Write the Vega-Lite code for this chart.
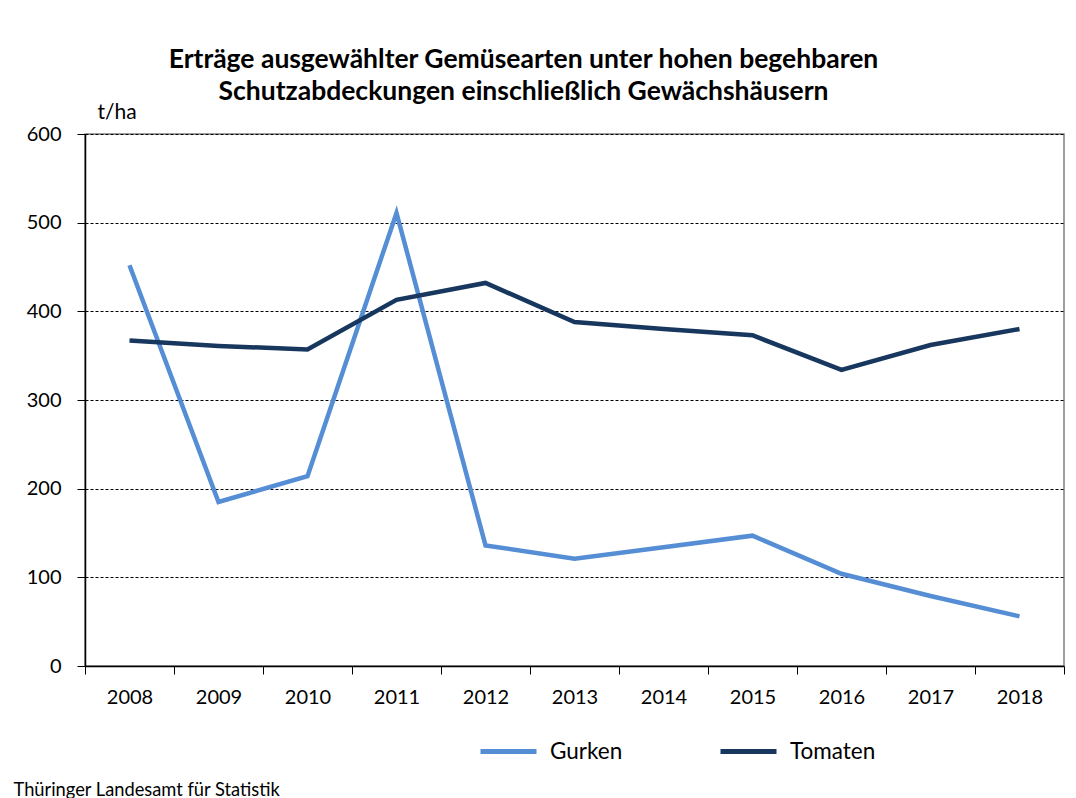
{
  "$schema": "https://vega.github.io/schema/vega-lite/v6.json",
  "width": 979,
  "height": 532,
  "autosize": "none",
  "padding": {"left": 85, "top": 134, "right": 12, "bottom": 132},
  "background": "white",
  "title": {
    "text": ["Erträge ausgewählter Gemüsearten unter hohen begehbaren", "Schutzabdeckungen einschließlich Gewächshäusern"],
    "font": "Lato",
    "fontSize": 26.5,
    "fontWeight": "bold",
    "color": "black",
    "anchor": "middle",
    "frame": "group",
    "dx": -51,
    "offset": -4,
    "lineHeight": 32
  },
  "data": {
    "values": [
      {"Jahr": "2008", "Art": "Gurken", "Wert": 452},
      {"Jahr": "2009", "Art": "Gurken", "Wert": 185},
      {"Jahr": "2010", "Art": "Gurken", "Wert": 214},
      {"Jahr": "2011", "Art": "Gurken", "Wert": 511},
      {"Jahr": "2012", "Art": "Gurken", "Wert": 136},
      {"Jahr": "2013", "Art": "Gurken", "Wert": 121},
      {"Jahr": "2014", "Art": "Gurken", "Wert": 134},
      {"Jahr": "2015", "Art": "Gurken", "Wert": 147},
      {"Jahr": "2016", "Art": "Gurken", "Wert": 104},
      {"Jahr": "2017", "Art": "Gurken", "Wert": 79},
      {"Jahr": "2018", "Art": "Gurken", "Wert": 56},
      {"Jahr": "2008", "Art": "Tomaten", "Wert": 367},
      {"Jahr": "2009", "Art": "Tomaten", "Wert": 361},
      {"Jahr": "2010", "Art": "Tomaten", "Wert": 357},
      {"Jahr": "2011", "Art": "Tomaten", "Wert": 413},
      {"Jahr": "2012", "Art": "Tomaten", "Wert": 432},
      {"Jahr": "2013", "Art": "Tomaten", "Wert": 388},
      {"Jahr": "2014", "Art": "Tomaten", "Wert": 380},
      {"Jahr": "2015", "Art": "Tomaten", "Wert": 373},
      {"Jahr": "2016", "Art": "Tomaten", "Wert": 334},
      {"Jahr": "2017", "Art": "Tomaten", "Wert": 362},
      {"Jahr": "2018", "Art": "Tomaten", "Wert": 380}
    ]
  },
  "mark": {"type": "line", "strokeWidth": 4.5, "strokeCap": "butt", "strokeJoin": "miter"},
  "encoding": {
    "x": {
      "field": "Jahr",
      "type": "ordinal",
      "bandPosition": 0.5,
      "scale": {"type": "band", "paddingInner": 0, "paddingOuter": 0},
      "axis": {
        "title": "Thüringer Landesamt für Statistik",
        "titleFont": "Lato",
        "titleFontSize": 18.3,
        "titleFontWeight": "normal",
        "titleColor": "black",
        "titleAnchor": "start",
        "titleAlign": "left",
        "titleBaseline": "alphabetic",
        "titleX": -72,
        "titleY": 129,
        "labelAngle": 0,
        "labelFont": "Lato",
        "labelFontSize": 20,
        "labelColor": "black",
        "labelPadding": 13,
        "tickBand": "extent",
        "tickSize": 8,
        "tickColor": "black",
        "domainColor": "black",
        "domainWidth": 1.5,
        "grid": false
      }
    },
    "y": {
      "field": "Wert",
      "type": "quantitative",
      "scale": {"domain": [0, 600]},
      "axis": {
        "values": [0, 100, 200, 300, 400, 500, 600],
        "title": "t/ha",
        "titleFont": "Lato",
        "titleFontSize": 21,
        "titleFontWeight": "normal",
        "titleColor": "black",
        "titleAngle": 0,
        "titleAlign": "left",
        "titleBaseline": "alphabetic",
        "titleX": 12,
        "titleY": -16,
        "labelFont": "Lato",
        "labelFontSize": 20,
        "labelColor": "black",
        "labelPadding": 16,
        "tickSize": 8,
        "tickColor": "black",
        "domainColor": "black",
        "domainWidth": 1.5,
        "grid": true,
        "gridColor": "black",
        "gridDash": [3, 2],
        "gridWidth": 1
      }
    },
    "color": {
      "field": "Art",
      "type": "nominal",
      "scale": {"domain": ["Gurken", "Tomaten"], "range": ["#558ED5", "#17375E"]},
      "legend": {
        "title": null,
        "orient": "none",
        "direction": "horizontal",
        "legendX": 393,
        "legendY": 587,
        "symbolType": "stroke",
        "symbolSize": 3136,
        "symbolStrokeWidth": 5,
        "labelFont": "Lato",
        "labelFontSize": 22.5,
        "labelColor": "black",
        "labelOffset": 11,
        "columnPadding": 87
      }
    }
  },
  "config": {
    "view": {"stroke": "#808080", "strokeWidth": 1.5}
  }
}
